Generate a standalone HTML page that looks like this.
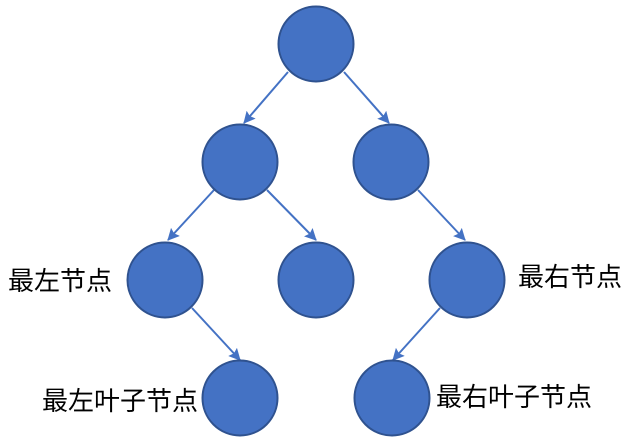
<!DOCTYPE html>
<html><head><meta charset="utf-8"><style>
html,body{margin:0;padding:0;background:#fff;}
svg{display:block;}
text{font-family:"Liberation Sans","Noto Sans CJK SC",sans-serif;font-size:26px;fill:#000;}
</style></head><body>
<svg width="630" height="444" viewBox="0 0 630 444" xmlns="http://www.w3.org/2000/svg">
<defs>
<marker id="a" markerWidth="13" markerHeight="12" refX="11" refY="6" orient="auto" markerUnits="userSpaceOnUse">
<path d="M0,0 L12,6 L0,12 L2,6 z" fill="#4472C4"/>
</marker>
</defs>
<g stroke="#4472C4" stroke-width="2" fill="none" marker-end="url(#a)">
<line x1="288" y1="72" x2="244" y2="123"/>
<line x1="344" y1="72" x2="389" y2="123"/>
<line x1="214" y1="190" x2="168" y2="240"/>
<line x1="267" y1="190" x2="316" y2="240"/>
<line x1="418" y1="190" x2="465" y2="240"/>
<line x1="192" y1="308" x2="240" y2="360"/>
<line x1="440" y1="308" x2="393" y2="360"/>
</g>
<g fill="#4472C4" stroke="#2F528F" stroke-width="2">
<circle cx="316" cy="44" r="37.5"/>
<circle cx="240" cy="162" r="37.5"/>
<circle cx="391" cy="162" r="37.5"/>
<circle cx="165" cy="280" r="37.5"/>
<circle cx="316" cy="280" r="37.5"/>
<circle cx="467" cy="280" r="37.5"/>
<circle cx="240" cy="398" r="37.5"/>
<circle cx="392" cy="398" r="37.5"/>
</g>
<text x="8" y="290">最左节点</text>
<text x="518" y="286">最右节点</text>
<text x="42" y="410">最左叶子节点</text>
<text x="436" y="406">最右叶子节点</text>
</svg>
</body></html>
